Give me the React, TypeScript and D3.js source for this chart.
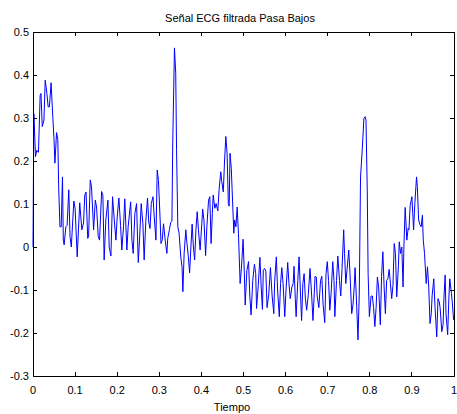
import React from "react";
import * as d3 from "d3";

const title = "Señal ECG filtrada Pasa Bajos";
const xLabel = "Tiempo";
const xTicks = [0, 0.1, 0.2, 0.3, 0.4, 0.5, 0.6, 0.7, 0.8, 0.9, 1];
const yTicks = [-0.3, -0.2, -0.1, 0, 0.1, 0.2, 0.3, 0.4, 0.5];

const time = [
  0.0, 0.002, 0.006, 0.009, 0.013, 0.017, 0.019, 0.022, 0.026, 0.029,
  0.033, 0.036, 0.039, 0.043, 0.047, 0.05, 0.052, 0.056, 0.059, 0.061,
  0.064, 0.067, 0.07, 0.072, 0.074, 0.078, 0.081, 0.085, 0.088, 0.091,
  0.097, 0.1, 0.105, 0.108, 0.111, 0.116, 0.12, 0.123, 0.126, 0.13,
  0.132, 0.136, 0.139, 0.144, 0.148, 0.151, 0.155, 0.158, 0.163, 0.166,
  0.169, 0.173, 0.178, 0.181, 0.185, 0.189, 0.193, 0.197, 0.2, 0.204,
  0.208, 0.211, 0.215, 0.218, 0.223, 0.226, 0.232, 0.235, 0.238, 0.242,
  0.246, 0.25, 0.253, 0.257, 0.261, 0.264, 0.268, 0.272, 0.275, 0.278,
  0.281, 0.285, 0.288, 0.292, 0.295, 0.298, 0.302, 0.304, 0.307, 0.31,
  0.314, 0.318, 0.32, 0.324, 0.327, 0.33, 0.332, 0.336, 0.339, 0.341,
  0.344, 0.347, 0.351, 0.354, 0.356, 0.359, 0.363, 0.365, 0.369, 0.372,
  0.375, 0.378, 0.381, 0.384, 0.387, 0.39, 0.393, 0.397, 0.401, 0.403,
  0.406, 0.41, 0.413, 0.417, 0.42, 0.423, 0.426, 0.428, 0.432, 0.435,
  0.439, 0.442, 0.446, 0.448, 0.452, 0.455, 0.458, 0.461, 0.464, 0.466,
  0.468, 0.471, 0.473, 0.477, 0.479, 0.482, 0.485, 0.488, 0.492, 0.495,
  0.499, 0.502, 0.504, 0.508, 0.512, 0.515, 0.518, 0.522, 0.526, 0.529,
  0.531, 0.535, 0.539, 0.542, 0.545, 0.547, 0.55, 0.553, 0.556, 0.56,
  0.564, 0.568, 0.572, 0.574, 0.578, 0.581, 0.585, 0.588, 0.591, 0.594,
  0.598, 0.601, 0.605, 0.608, 0.611, 0.615, 0.618, 0.62, 0.623, 0.625,
  0.629, 0.632, 0.635, 0.638, 0.641, 0.644, 0.647, 0.65, 0.654, 0.658,
  0.662, 0.665, 0.67, 0.673, 0.675, 0.679, 0.683, 0.686, 0.689, 0.693,
  0.696, 0.699, 0.702, 0.705, 0.708, 0.712, 0.715, 0.717, 0.721, 0.724,
  0.728, 0.731, 0.734, 0.738, 0.74, 0.743, 0.746, 0.75, 0.753, 0.757,
  0.76, 0.763, 0.765, 0.769, 0.772, 0.775, 0.778, 0.782, 0.786, 0.789,
  0.791, 0.794, 0.796, 0.799, 0.803, 0.806, 0.809, 0.812, 0.815, 0.818,
  0.821, 0.825, 0.828, 0.831, 0.834, 0.837, 0.84, 0.843, 0.846, 0.849,
  0.852, 0.855, 0.858, 0.861, 0.864, 0.868, 0.87, 0.873, 0.876, 0.879,
  0.881, 0.884, 0.888, 0.891, 0.893, 0.896, 0.9, 0.902, 0.904, 0.907,
  0.911, 0.913, 0.916, 0.919, 0.922, 0.925, 0.927, 0.93, 0.934, 0.937,
  0.94, 0.943, 0.946, 0.948, 0.952, 0.955, 0.959, 0.962, 0.965, 0.967,
  0.971, 0.974, 0.976, 0.979, 0.981, 0.985, 0.988, 0.99, 0.994, 0.996,
  0.999, 1.0,
];

const ecg = [
  0.0, 0.31, 0.21, 0.225, 0.22, 0.353, 0.357, 0.28, 0.295, 0.388,
  0.357, 0.326, 0.326, 0.382, 0.303, 0.249, 0.195, 0.266, 0.25, 0.14,
  0.047, 0.047, 0.163, 0.016, 0.005, 0.047, 0.05, 0.133, 0.024, 0.0,
  0.107, 0.09, -0.023, 0.04, 0.103, 0.04, 0.056, 0.121, 0.128, 0.02,
  0.024, 0.156, 0.14, 0.04, 0.109, 0.093, 0.024, 0.016, 0.129, 0.12,
  -0.03, 0.063, 0.109, 0.0, -0.021, 0.117, 0.063, 0.016, 0.07, 0.114,
  0.05, -0.007, 0.047, 0.112, -0.007, 0.047, 0.105, 0.016, -0.015, 0.078,
  0.101, -0.036, 0.016, 0.101, 0.054, -0.03, 0.06, 0.114, 0.058, 0.043,
  0.101, 0.117, 0.07, 0.016, 0.179, 0.155, 0.063, 0.008, 0.016, 0.054,
  0.016, -0.015, 0.02, 0.04, 0.057, 0.06, 0.249, 0.463, 0.405, 0.226,
  0.047, 0.032, -0.023, -0.046, -0.104, -0.015, 0.04, 0.016, -0.023, -0.06,
  0.0, 0.053, 0.0, -0.03, 0.04, 0.082, 0.04, -0.007, 0.054, 0.088,
  0.063, -0.02, 0.047, 0.109, 0.117, 0.008, 0.078, 0.121, 0.09, 0.101,
  0.084, 0.133, 0.175, 0.155, 0.128, 0.2, 0.257, 0.218, 0.101, 0.095,
  0.218, 0.183, 0.133, 0.032, 0.063, 0.047, 0.093, 0.032, -0.085, -0.05,
  0.018, -0.06, -0.135, -0.055, -0.034, -0.114, -0.158, -0.078, -0.04, -0.062,
  -0.143, -0.09, -0.024, -0.093, -0.145, -0.054, -0.05, -0.056, -0.141, -0.11,
  -0.048, -0.114, -0.155, -0.08, -0.023, -0.1, -0.162, -0.085, -0.048, -0.085,
  -0.162, -0.1, -0.036, -0.085, -0.12, -0.093, -0.085, -0.045, -0.12, -0.162,
  -0.078, -0.023, -0.1, -0.171, -0.085, -0.062, -0.12, -0.147, -0.11, -0.05,
  -0.114, -0.171, -0.068, -0.07, -0.114, -0.141, -0.078, -0.068, -0.133, -0.176,
  -0.062, -0.034, -0.078, -0.147, -0.109, -0.034, -0.078, -0.162, -0.078, -0.021,
  -0.078, -0.114, -0.052, 0.04, -0.015, -0.085, -0.052, -0.007, -0.062, -0.155,
  -0.135, -0.093, -0.048, -0.14, -0.216, -0.109, 0.163, 0.226, 0.299, 0.303,
  0.295, 0.128, -0.062, -0.162, -0.114, -0.114, -0.141, -0.185, -0.141, -0.07,
  -0.093, -0.181, -0.068, -0.011, -0.093, -0.155, -0.078, -0.074, -0.052, -0.085,
  -0.12, -0.09, 0.008, -0.015, -0.116, -0.043, 0.012, -0.015, 0.0, -0.093,
  0.0, 0.092, 0.016, 0.043, 0.04, 0.097, 0.117, 0.078, 0.04, 0.101,
  0.163, 0.14, 0.063, 0.052, 0.047, 0.074, 0.016, -0.015, -0.085, -0.046,
  -0.093, -0.178, -0.155, -0.114, -0.074, -0.141, -0.209, -0.12, -0.128, -0.141,
  -0.197, -0.181, -0.12, -0.065, -0.155, -0.204, -0.114, -0.074, -0.109, -0.13,
  -0.169, -0.16,
];

const W = 457;
const H = 414;
const left = 33;
const right = 454;
const top = 32;
const bottom = 376;
const font = "'Liberation Sans', Arial, sans-serif";

export default function App() {
  const x = d3.scaleLinear().domain([0, 1]).range([left, right]);
  const y = d3.scaleLinear().domain([-0.3, 0.5]).range([bottom, top]);
  const pts: [number, number][] = time.map((t, i) => [t, ecg[i]]);
  const line = d3
    .line<[number, number]>()
    .x((d) => x(d[0]))
    .y((d) => y(d[1]));
  const tl = 4;
  const fmt = (v: number) => (Math.abs(v) < 1e-9 ? "0" : String(+v.toFixed(1)));

  return (
    <svg
      width={W}
      height={H}
      style={{ position: "absolute", left: 0, top: 0, background: "#fff" }}
      fontFamily={font}
    >
      <rect x={0} y={0} width={W} height={H} fill="#fff" />
      <path d={line(pts) || ""} fill="none" stroke="#0000ff" strokeWidth={1} />
      <rect
        x={left}
        y={top}
        width={right - left}
        height={bottom - top}
        fill="none"
        stroke="#000"
        strokeWidth={1}
        shapeRendering="crispEdges"
      />
      {xTicks.map((t) => (
        <g key={"x" + t}>
          <line x1={x(t)} x2={x(t)} y1={bottom} y2={bottom - tl} stroke="#000" shapeRendering="crispEdges" />
          <line x1={x(t)} x2={x(t)} y1={top} y2={top + tl} stroke="#000" shapeRendering="crispEdges" />
          <text x={x(t)} y={393.5} fontSize={11} textAnchor="middle" fill="#000">
            {fmt(t)}
          </text>
        </g>
      ))}
      {yTicks.map((v) => (
        <g key={"y" + v}>
          <line x1={left} x2={left + tl} y1={y(v)} y2={y(v)} stroke="#000" shapeRendering="crispEdges" />
          <line x1={right} x2={right - tl} y1={y(v)} y2={y(v)} stroke="#000" shapeRendering="crispEdges" />
          <text x={29} y={y(v) + 4} fontSize={11} textAnchor="end" fill="#000">
            {fmt(v)}
          </text>
        </g>
      ))}
      <text x={240} y={21.5} fontSize={11} textAnchor="middle" fill="#000">
        {title}
      </text>
      <text x={232} y={411} fontSize={11} textAnchor="middle" fill="#000">
        {xLabel}
      </text>
    </svg>
  );
}
